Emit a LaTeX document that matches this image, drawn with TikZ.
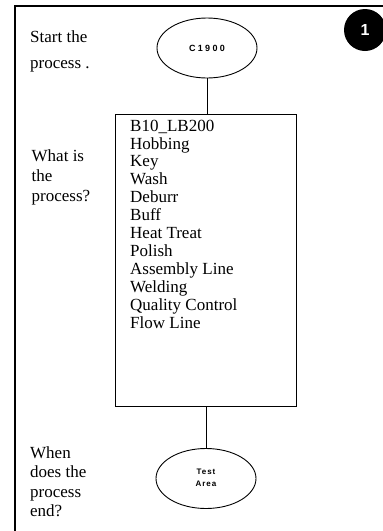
\documentclass[tikz,border=0pt]{standalone}
\usepackage{fontspec}
\setmainfont{Liberation Serif}
\newfontfamily\tinysans[LetterSpace=26]{Liberation Sans}
\newfontfamily\tinysansb[LetterSpace=12]{Liberation Sans}
\newfontfamily\numfont{Liberation Sans}
\usetikzlibrary{shapes.geometric}
\tikzset{
  term/.style={ellipse, draw, line width=0.9pt, minimum width=100pt, minimum height=60pt, inner sep=0pt},
  procbox/.style={draw, line width=1pt, minimum width=181pt, minimum height=292pt, inner sep=0pt, anchor=north west},
  lbl/.style={anchor=north west, align=left, inner sep=0pt},
  conn/.style={line width=1pt},
}
\begin{document}
\begin{tikzpicture}[x=1pt,y=-1pt]
\useasboundingbox (0,0) rectangle (383,531);
\clip (0,0) rectangle (383,531);
% outer frame
\draw[line width=1.4pt] (15,545) -- (15,6) -- (395,6);
% number badge
\node[circle, fill=black, minimum size=42pt, inner sep=0pt, text=white,
      font=\numfont\bfseries\fontsize{16}{16}\selectfont] (num) at (365,30) {1};
% nodes
\node[term] (start) at (207,48) {\tinysans\bfseries\fontsize{9}{10}\selectfont C1900};
\node[procbox] (proc) at (115,114) {};
\node[lbl, font=\fontsize{17}{17.9}\selectfont] (steps) at (130,119.6)
  {B10\_LB200\\Hobbing\\Key\\Wash\\Deburr\\Buff\\Heat Treat\\Polish\\Assembly Line\\Welding\\Quality Control\\Flow Line};
\node[term] (finish) at (206,478.5) {\tinysansb\bfseries\fontsize{8}{12}\selectfont\begin{tabular}{@{}c@{}}Test\\Area\end{tabular}};
% connectors
\draw[conn] (start.south) -- (start.south |- proc.north);
\draw[conn] (finish.north |- proc.south) -- (finish.north);
% left labels
\node[lbl, font=\fontsize{17}{26}\selectfont] (q1) at (30,30.4) {Start the\\process .};
\node[lbl, font=\fontsize{17}{20}\selectfont] (q2) at (31.5,149.4) {What is\\the\\process?};
\node[lbl, font=\fontsize{17}{19.3}\selectfont] (q3) at (30,446.4) {When\\does the\\process\\end?};
\end{tikzpicture}
\end{document}
